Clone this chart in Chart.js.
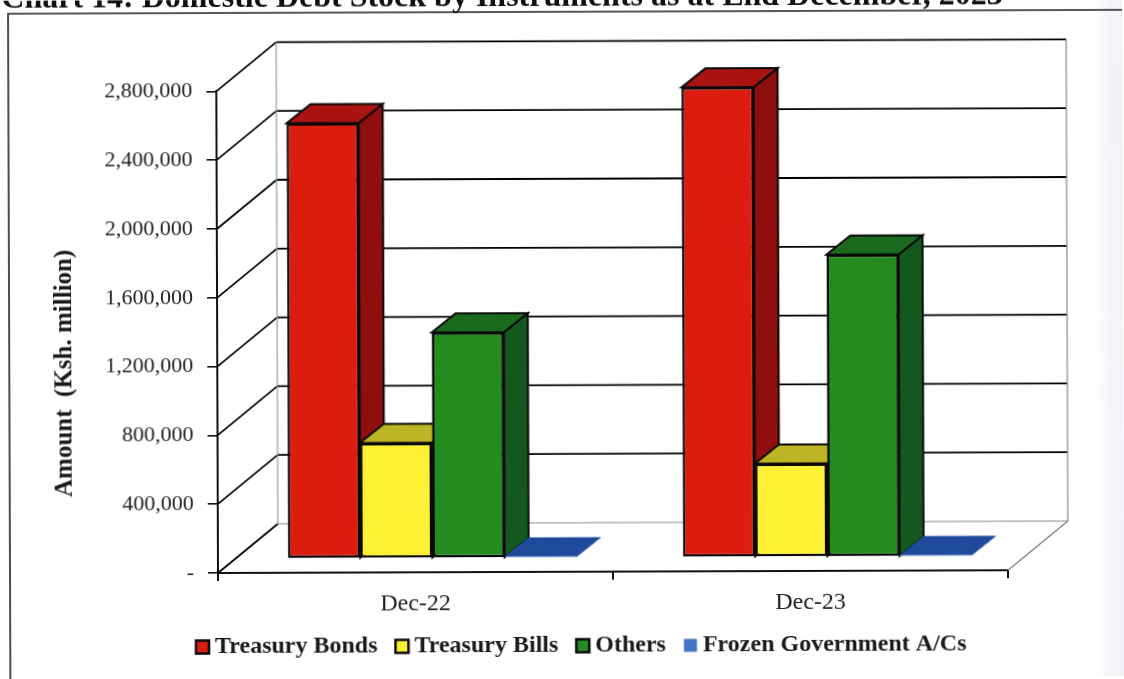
<!DOCTYPE html>
<html>
<head>
<meta charset="utf-8">
<title>Domestic Debt Stock</title>
<script src="https://cdn.jsdelivr.net/npm/chart.js@4"></script>
<style>
  html, body { margin: 0; padding: 0; background: #fff; overflow: hidden; }
  #wrap { width: 1124px; height: 679px; }
  canvas { transform-origin: 218px 573px; transform: rotate(-0.2deg); filter: blur(0.3px); }
</style>
</head>
<body>
<div id="wrap"><canvas id="chart" width="1124" height="679"></canvas></div>
<script>
const categories = ['Dec-22', 'Dec-23'];
const treasuryBonds = [2532000, 2732000];
const treasuryBills = [672000, 544000];
const others = [1312000, 1757000];
const frozenAccounts = [8000, 8000];

const SERIF = '"Liberation Serif", serif';
const FLOOR_DEPTH = { x: 60, y: -49 };
const BAR_SHIFT = { x: 17, y: -14 };
const BAR_DEPTH = { x: 24, y: -19 };

function poly(ctx, pts, fill, stroke) {
    ctx.beginPath();
    pts.forEach((p, i) => (i ? ctx.lineTo(p[0], p[1]) : ctx.moveTo(p[0], p[1])));
    ctx.closePath();
    ctx.fillStyle = fill;
    ctx.fill();
    if (stroke) {
        ctx.lineWidth = 2;
        ctx.strokeStyle = stroke;
        ctx.stroke();
    }
}

function line(ctx, x1, y1, x2, y2, color, width) {
    ctx.beginPath();
    ctx.moveTo(x1, y1);
    ctx.lineTo(x2, y2);
    ctx.strokeStyle = color;
    ctx.lineWidth = width;
    ctx.stroke();
}

// Fake 3D box: walls behind the plot, side and top faces on each bar
const depthPlugin = {
    id: 'depth',
    afterLayout(chart) {
        chart.titleBlock.top = -20;
        chart.legend.left += 80;
        chart.legend.right += 80;
        chart.legend.top -= 10;
    },
    beforeDraw(chart) {
        const { ctx } = chart;
        ctx.save();
        const band = ctx.createLinearGradient(1095, 0, 1124, 0);
        band.addColorStop(0, 'rgba(232,226,240,0)');
        band.addColorStop(0.5, 'rgba(232,226,240,0.35)');
        band.addColorStop(1, 'rgba(225,222,232,0.4)');
        ctx.fillStyle = band;
        ctx.fillRect(1095, 0, 29, 679);
        // page frame
        ctx.beginPath();
        ctx.moveTo(10, 679);
        ctx.lineTo(10, 13);
        ctx.lineTo(1130, 13);
        ctx.strokeStyle = '#222';
        ctx.lineWidth = 1.6;
        ctx.stroke();
        ctx.restore();
    },
    beforeDatasetsDraw(chart) {
        const { ctx, chartArea: a, scales: { y } } = chart;
        const dx = FLOOR_DEPTH.x, dy = FLOOR_DEPTH.y;
        ctx.save();
        y.ticks.forEach(t => {
            const py = y.getPixelForValue(t.value);
            const grey = t.value === 0;
            line(ctx, a.left, py, a.left + dx, py + dy, '#000', 1.7);
            line(ctx, a.left + dx, py + dy, a.right + dx, py + dy, grey ? '#8a8a8a' : '#000', grey ? 1.2 : 1.8);
        });
        line(ctx, a.left + dx, a.top + dy, a.left + dx, a.bottom + dy, '#999', 1.2);
        line(ctx, a.right + dx, a.top + dy, a.right + dx, a.bottom + dy, '#888', 1.2);
        line(ctx, a.right, a.bottom, a.right + dx, a.bottom + dy, '#777', 1.2);

        // paint bars left to right so each one hides the side of its neighbour
        ctx.translate(BAR_SHIFT.x, BAR_SHIFT.y);
        chart.data.datasets.forEach((ds, i) => {
            chart.getDatasetMeta(i).data.forEach(bar => {
                const l = bar.x - bar.width / 2, r = bar.x + bar.width / 2;
                const edge = ds.borderWidth ? '#0a0a0a' : null;
                const bx = BAR_DEPTH.x, by = BAR_DEPTH.y;
                poly(ctx, [[r, bar.y], [r + bx, bar.y + by], [r + bx, bar.base + by], [r, bar.base]], ds.sideColor, edge);
                poly(ctx, [[l, bar.y], [l + bx, bar.y + by], [r + bx, bar.y + by], [r, bar.y]], ds.topColor, edge);
                bar.draw(ctx);
            });
        });
        ctx.restore();
        return false;
    }
};

new Chart(document.getElementById('chart'), {
    type: 'bar',
    data: {
        labels: categories,
        datasets: [
            { label: 'Treasury Bonds', data: treasuryBonds, backgroundColor: '#dd1c10', sideColor: '#8f0f0e', topColor: '#a91311', borderColor: '#0a0a0a', borderWidth: 2.5 },
            { label: 'Treasury Bills', data: treasuryBills, backgroundColor: '#fdf136', sideColor: '#9c9420', topColor: '#bdb525', borderColor: '#0a0a0a', borderWidth: 2.5 },
            { label: 'Others', data: others, backgroundColor: '#238b20', sideColor: '#14571f', topColor: '#1b6a1d', borderColor: '#0a0a0a', borderWidth: 2.5 },
            { label: 'Frozen Government A/Cs', data: frozenAccounts, backgroundColor: '#4474c4', sideColor: '#1f4a9c', topColor: '#1f4a9c', borderColor: '#4474c4', borderWidth: 0 }
        ]
    },
    options: {
        responsive: false,
        animation: false,
        layout: { padding: { left: 0, right: 116, top: 0, bottom: 0 } },
        datasets: { bar: { categoryPercentage: 0.731, barPercentage: 1, borderSkipped: false } },
        plugins: {
            tooltip: { enabled: false },
            title: {
                display: true,
                text: 'Chart 14: Domestic Debt Stock by Instruments as at End December, 2023',
                color: '#111',
                font: { family: SERIF, size: 32, weight: 'bold' },
                padding: { top: 0, bottom: 53 }
            },
            legend: {
                position: 'bottom',
                labels: {
                    usePointStyle: true,
                    pointStyle: 'rect',
                    boxWidth: 1,
                    boxHeight: 13,
                    padding: 24,
                    color: '#1a1a1a',
                    font: { family: SERIF, size: 24, weight: 'bold' }
                }
            }
        },
        scales: {
            x: {
                afterFit: s => { s.height = 48; },
                border: { color: '#111', width: 2 },
                grid: { drawOnChartArea: false, color: '#111', lineWidth: 2, tickLength: 8 },
                ticks: { color: '#222', padding: 9, maxRotation: 0, font: { family: SERIF, size: 24 } }
            },
            y: {
                min: 0,
                max: 2800000,
                afterFit: s => { s.width = 218; },
                border: { color: '#111', width: 2 },
                grid: { drawOnChartArea: false, color: '#111', lineWidth: 1.6, tickLength: 10 },
                ticks: {
                    stepSize: 400000,
                    color: '#222',
                    padding: 14,
                    font: { family: SERIF, size: 22 },
                    callback: v => (v === 0 ? '-' : v.toLocaleString('en-US'))
                },
                title: {
                    display: true,
                    // trailing spaces push the centred title down the axis
                    text: 'Amount  (Ksh. million)' + ' '.repeat(13),
                    color: '#1a1a1a',
                    padding: { top: 51, bottom: 0 },
                    font: { family: SERIF, size: 25, weight: 'bold' }
                }
            }
        }
    },
    plugins: [depthPlugin]
});
</script>
</body>
</html>
